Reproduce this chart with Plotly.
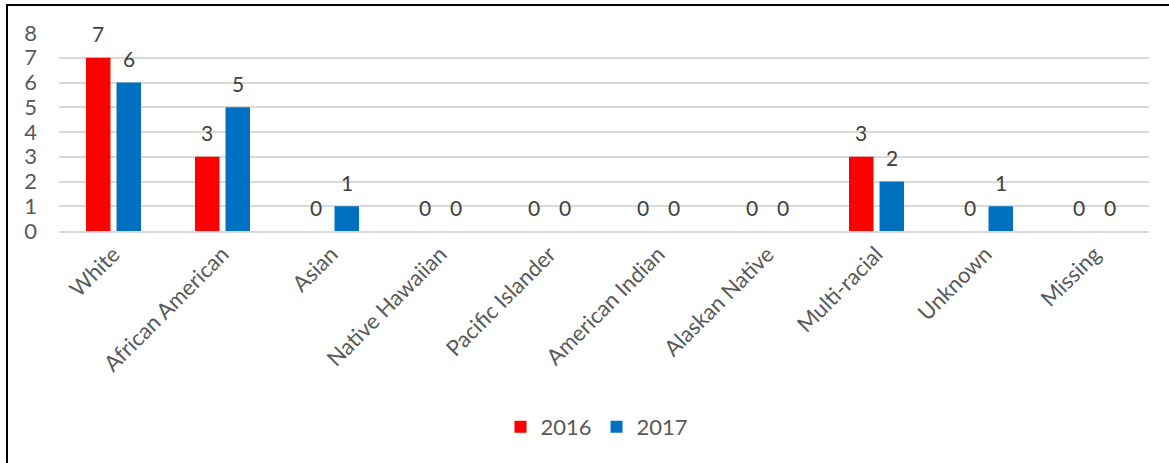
import plotly.graph_objects as go

categories = ["White", "African American", "Asian", "Native Hawaiian", "Pacific Islander",
              "American Indian", "Alaskan Native", "Multi-racial", "Unknown", "Missing"]
values_2016 = [7, 3, 0, 0, 0, 0, 0, 3, 0, 0]
values_2017 = [6, 5, 1, 0, 0, 0, 0, 2, 1, 0]
series_names = ["2016", "2017"]
colors = ["#FF0000", "#0070C0"]

FONT = "Lato"
W, H = 1169, 463
L, R, T, B = 59, 20, 33, 232
pw, ph = W - L - R, H - T - B

fig = go.Figure()
for name, vals, col in zip(series_names, [values_2016, values_2017], colors):
    fig.add_trace(go.Bar(x=categories, y=vals, name=name, marker_color=col,
                         marker_line_width=0))

annotations = []
for vals, shift in zip([values_2016, values_2017], [-15.25, 15.25]):
    for c, v in zip(categories, vals):
        annotations.append(dict(x=c, y=v, text=str(v), showarrow=False, xshift=shift,
                                yshift=24, yanchor="middle", xanchor="center",
                                font=dict(family=FONT, size=21, color="#404040")))

def px2x(px):
    return (px - L) / pw

def py2y(py):
    return (H - B - py) / ph

fig.update_layout(
    width=W, height=H,
    margin=dict(l=L, r=R, t=T, b=B, autoexpand=False),
    plot_bgcolor="white", paper_bgcolor="white",
    barmode="group", bargap=0.44, bargroupgap=0.197,
    font=dict(family=FONT, color="#595959"),
    xaxis=dict(tickangle=-45, tickfont=dict(family=FONT, size=22, color="#595959"),
               showgrid=False, showline=True, linecolor="#D9D9D9", linewidth=1.5,
               ticks="", ticklen=0),
    yaxis=dict(range=[0, 8], dtick=1, tickfont=dict(family=FONT, size=22, color="#595959"),
               showgrid=True, gridcolor="#D9D9D9", gridwidth=1.5, zeroline=False,
               showline=False, ticks="", ticklabelstandoff=21),
    legend=dict(orientation="h", x=px2x(597), y=py2y(427), xanchor="center",
                yanchor="middle", font=dict(family=FONT, size=22, color="#595959"),
                itemwidth=30, traceorder="normal"),
    annotations=annotations,
    shapes=[dict(type="rect", xref="paper", yref="paper",
                 x0=px2x(7), x1=px2x(1180), y0=py2y(480), y1=py2y(5),
                 line=dict(color="black", width=2), fillcolor="rgba(0,0,0,0)", layer="above")],
)

fig.write_html("out.html", config={"displayModeBar": False},
               post_script="document.body.style.margin='0px';")
